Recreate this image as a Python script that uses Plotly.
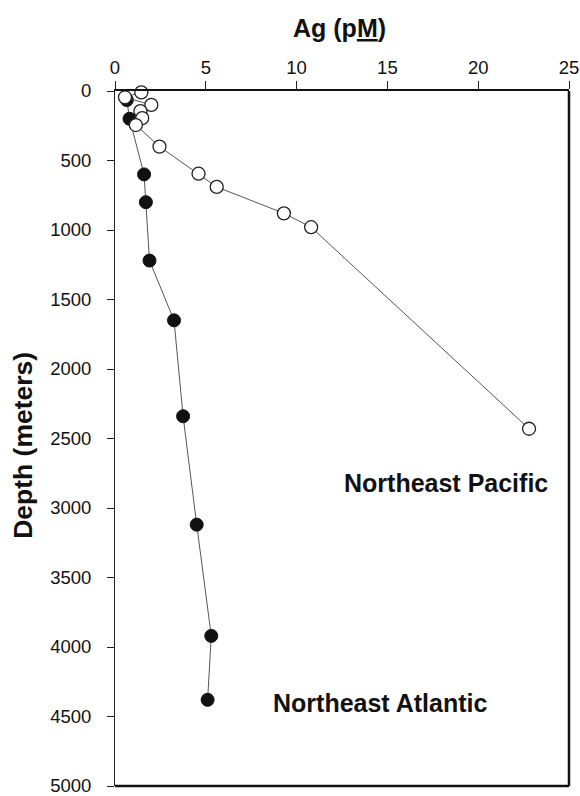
import plotly.graph_objects as go

# Dissolved silver profiles (Ag in pM versus depth in metres)
pacific_ag = [1.45, 0.55, 2.0, 1.4, 1.5, 1.15, 2.45, 4.6, 5.6, 9.3, 10.8, 22.8]
pacific_depth = [10, 45, 100, 145, 195, 245, 400, 595, 690, 880, 980, 2430]

atlantic_ag = [0.65, 0.8, 1.6, 1.7, 1.9, 3.25, 3.75, 4.5, 5.3, 5.1]
atlantic_depth = [65, 200, 600, 800, 1220, 1650, 2340, 3120, 3920, 4380]

x_ticks = [0, 5, 10, 15, 20, 25]
y_ticks = [0, 500, 1000, 1500, 2000, 2500, 3000, 3500, 4000, 4500, 5000]

FONT = "Arial, Liberation Sans, sans-serif"

fig = go.Figure()

fig.add_trace(go.Scatter(
    x=atlantic_ag, y=atlantic_depth, mode="lines+markers",
    line=dict(color="#555555", width=1),
    marker=dict(size=13, color="#111111", line=dict(color="#111111", width=1)),
    cliponaxis=False, showlegend=False,
))

fig.add_trace(go.Scatter(
    x=pacific_ag, y=pacific_depth, mode="lines+markers",
    line=dict(color="#555555", width=1),
    marker=dict(size=13, color="white", line=dict(color="#222222", width=1.3)),
    cliponaxis=False, showlegend=False,
))

fig.update_layout(
    width=580, height=796,
    margin=dict(l=115, r=11, t=91, b=10),
    paper_bgcolor="white", plot_bgcolor="white",
    font=dict(family=FONT, color="#111111", size=18.5),
    xaxis=dict(
        range=[0, 25], side="top", tickvals=x_ticks,
        ticks="outside", ticklen=8, tickwidth=1, tickcolor="#222222",
        showline=True, linewidth=2, linecolor="#111111",
        showgrid=False, zeroline=False, ticklabelstandoff=0,
        ticklabeloverflow="allow", automargin=False,
    ),
    yaxis=dict(
        range=[5000, 0], tickvals=y_ticks,
        ticks="outside", ticklen=7, tickwidth=1, tickcolor="#222222",
        showline=True, linewidth=1, linecolor="#222222",
        showgrid=False, zeroline=False, ticklabelstandoff=12,
        ticklabeloverflow="allow", automargin=False,
    ),
    shapes=[
        dict(type="line", xref="paper", yref="paper", x0=1, x1=1, y0=0, y1=1,
             line=dict(color="#111111", width=2.5)),
        dict(type="line", xref="paper", yref="paper", x0=0, x1=1, y0=0, y1=0,
             line=dict(color="#111111", width=2.5)),
    ],
    annotations=[
        dict(text="<b>Ag (p<u>M</u>)</b>", xref="paper", yref="paper",
             x=0.495, y=1.0906, xanchor="center", yanchor="middle",
             showarrow=False, font=dict(size=25)),
        dict(text="<b>Depth (meters)</b>", xref="paper", yref="paper",
             x=-0.203, y=0.4906, xanchor="center", yanchor="middle",
             textangle=-90, showarrow=False, font=dict(size=26.5)),
        dict(text="<b>Northeast Pacific</b>", x=18.25, y=2820,
             xanchor="center", yanchor="middle", showarrow=False,
             font=dict(size=25)),
        dict(text="<b>Northeast Atlantic</b>", x=14.6, y=4400,
             xanchor="center", yanchor="middle", showarrow=False,
             font=dict(size=25)),
    ],
)

fig.write_html("out.html")
